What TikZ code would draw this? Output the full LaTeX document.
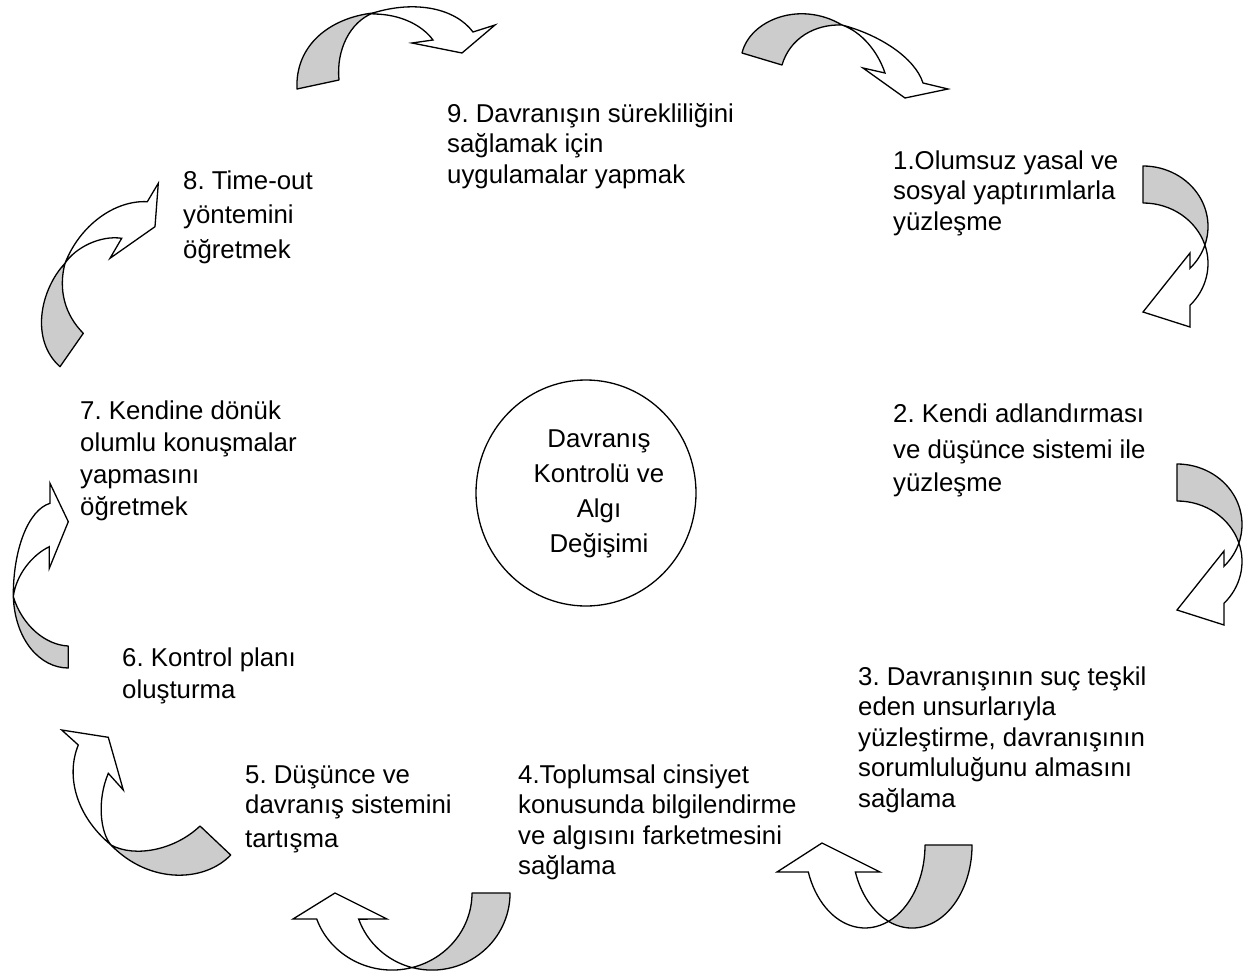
\documentclass[tikz,border=0pt]{standalone}
\usepackage{fontspec}
\setmainfont{Liberation Sans}
\frenchspacing
\definecolor{ag}{RGB}{204,204,204}
\begin{document}
\begin{tikzpicture}[x=1pt,y=-1pt,
  back/.style={fill=ag,draw=black,line width=1.3pt,line join=round},
  front/.style={fill=white,draw=black,line width=1.3pt,line join=miter},
  txt/.style={anchor=base west,align=left,inner sep=0pt,font=\fontsize{25.8}{30.5}\selectfont},
  ctxt/.style={anchor=base,align=center,inner sep=0pt,font=\fontsize{25.8}{35}\selectfont}]
\useasboundingbox (0,0) rectangle (1251,974);

% central ellipse
\draw[line width=1.3pt] (586,493) ellipse[x radius=110, y radius=113];
% (base anchor of a multi-line node = baseline of its last line)
\node[ctxt] (c) at (599,552) {Davranış\\Kontrolü ve\\Algı\\Değişimi};

% texts
\node[txt] (t9) at (447,183) {9. Davranışın sürekliliğini\\sağlamak için\\uygulamalar yapmak};
\node[txt] (t1) at (893,230) {1.Olumsuz yasal ve\\sosyal yaptırımlarla\\yüzleşme};
\node[txt] (t2) at (893,491) {2. Kendi adlandırması\\[6pt]ve düşünce sistemi ile\\[2pt]yüzleşme};
\node[txt] (t3) at (858,807) {3. Davranışının suç teşkil\\eden unsurlarıyla\\yüzleştirme, davranışının\\sorumluluğunu almasını\\sağlama};
\node[txt] (t4) at (518,874.5) {4.Toplumsal cinsiyet\\konusunda bilgilendirme\\ve algısını farketmesini\\sağlama};
\node[txt] (t5) at (245,847) {5. Düşünce ve\\davranış sistemini\\[3pt]tartışma};
\node[txt] (t6) at (122,698.5) {6. Kontrol planı\\[2pt]oluşturma};
\node[txt] (t7) at (80,515) {7. Kendine dönük\\[1.2pt]olumlu konuşmalar\\[1.2pt]yapmasını\\[1.2pt]öğretmek};
\node[txt] (t8) at (183,258) {8. Time-out\\[4pt]yöntemini\\[4pt]öğretmek};

% arrow A (8 -> 9)
\draw[back] (297,89) .. controls (295,45) and (330,18) .. (373,13)
  .. controls (350,22) and (336,50) .. (339,80) -- cycle;
\draw[front] (373,13) .. controls (415,0) and (455,8) .. (473,32)
  -- (495,25) -- (462,53) -- (412,43) -- (433,40)
  .. controls (422,25) and (400,14) .. (373,14) -- cycle;

% arrow B (9 -> 1)
\draw[back] (742,53) .. controls (750,20) and (800,0) .. (842,25)
  .. controls (815,24) and (790,38) .. (782,65) -- cycle;
\draw[front] (842,25) .. controls (880,35) and (915,58) .. (923,83)
  -- (948,89) -- (905,98) -- (863,68) -- (885,73)
  .. controls (878,52) and (862,32) .. (842,25) -- cycle;

% arrow C (1 -> 2)
\draw[back] (1143,166) arc[start angle=-90, end angle=17.8, x radius=65, y radius=60.5]
  arc[start angle=-17.8, end angle=-90, x radius=65, y radius=60.5] -- cycle;
\draw[front] (1204.9,245) arc[start angle=-17.8, end angle=43.7, x radius=65, y radius=60.5]
  -- (1190,327) -- (1143,312) -- (1190,253) -- (1190,268.3)
  arc[start angle=43.7, end angle=17.8, x radius=65, y radius=60.5] -- cycle;

% arrow D (2 -> 3)
\begin{scope}[shift={(34,298)}]
\draw[back] (1143,166) arc[start angle=-90, end angle=17.8, x radius=65, y radius=60.5]
  arc[start angle=-17.8, end angle=-90, x radius=65, y radius=60.5] -- cycle;
\draw[front] (1204.9,245) arc[start angle=-17.8, end angle=43.7, x radius=65, y radius=60.5]
  -- (1190,327) -- (1143,312) -- (1190,253) -- (1190,268.3)
  arc[start angle=43.7, end angle=17.8, x radius=65, y radius=60.5] -- cycle;
\end{scope}

% arrow E (3 -> 4)
\draw[back] (888.5,921.4) arc[start angle=113.1, end angle=0, x radius=60, y radius=83]
  -- (925,845) arc[start angle=0, end angle=66.9, x radius=60, y radius=83] -- cycle;
\draw[front] (808.3,872) arc[start angle=161, end angle=66.9, x radius=60, y radius=83]
  arc[start angle=113.1, end angle=161, x radius=60, y radius=83]
  -- (880,872) -- (822,843) -- (777,872) -- cycle;

% arrow F (4 -> 5)
\draw[back] (412,967.5) arc[start angle=104.9, end angle=0, x radius=78, y radius=77]
  -- (472,893) arc[start angle=0, end angle=75.5, x radius=80, y radius=77] -- cycle;
\draw[front] (316.7,919) arc[start angle=160.3, end angle=75.5, x radius=80, y radius=77]
  arc[start angle=104.9, end angle=160.3, x radius=78, y radius=77]
  -- (387,919) -- (335,893) -- (293,919) -- cycle;

% arrow G (5 -> 6)
\draw[back] (111,845) .. controls (135,858) and (175,850) .. (200,826)
  -- (230.7,855) .. controls (205,882) and (150,885) .. (111,845) -- cycle;
\draw[front] (78.3,745) .. controls (66,775) and (75,815) .. (111,845)
  .. controls (100,832) and (97,800) .. (108.3,773.3)
  -- (123.3,790) -- (108.3,737.3) -- (61.7,730) -- cycle;

% arrow H (6 -> 7)
\draw[back] (13.3,596.7) .. controls (15,640) and (40,668) .. (68.3,668)
  -- (68.3,646) .. controls (45,645) and (22,625) .. (13.3,596.7) -- cycle;
\draw[front] (50,503.3) .. controls (28,510) and (13,550) .. (13.3,596.7)
  .. controls (16,575) and (32,555) .. (49.3,546.7)
  -- (49.3,568.3) -- (68.3,521.7) -- (50,483.3) -- cycle;

% arrow I (7 -> 8)
\draw[back] (65,263.3) .. controls (40,290) and (30,340) .. (60,366.7)
  -- (83.3,333.3) .. controls (65,315) and (58,290) .. (65,263.3) -- cycle;
\draw[front] (147.3,201.7) .. controls (115,200) and (80,225) .. (65,263.3)
  .. controls (75,248) and (100,235) .. (121.7,238.3)
  -- (110,258.3) -- (155,226.7) -- (158.3,183.3) -- cycle;
\end{tikzpicture}
\end{document}
